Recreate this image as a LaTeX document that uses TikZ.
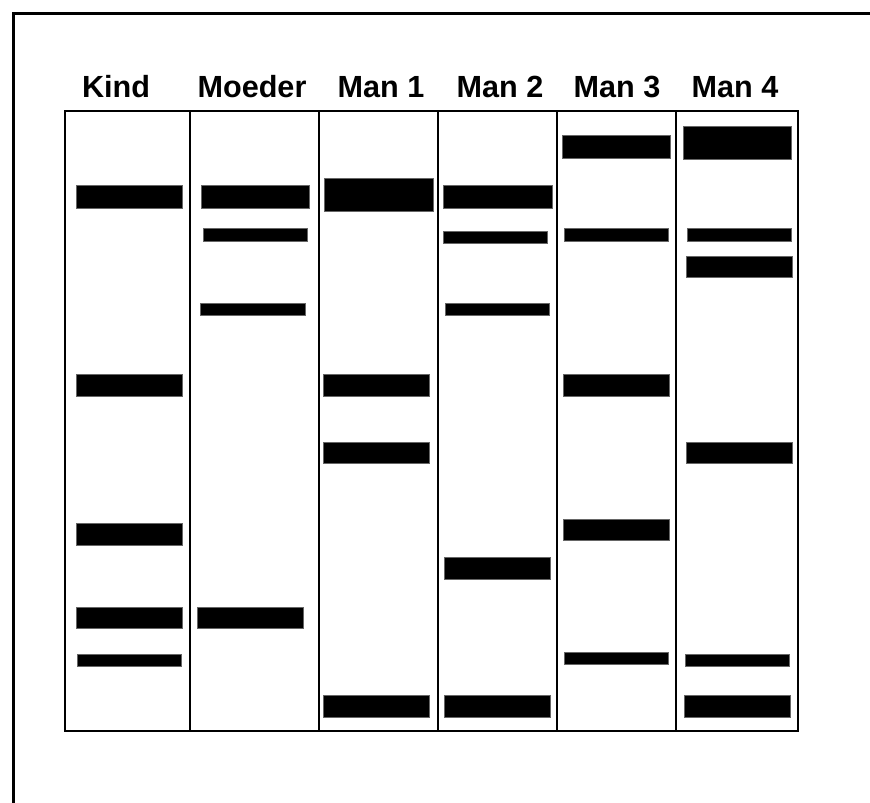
\documentclass[tikz,border=0pt]{standalone}
\usepackage{fontspec}
\setmainfont{Liberation Sans}
\usepackage{tikz}
\newcommand{\lanefont}{\fontsize{30.6}{36}\selectfont\bfseries}
\tikzset{
	gelline/.style={line width=2.6pt},
	frameline/.style={line width=3pt},
	band/.style={fill=black, draw=black!60, line width=0.4pt},
	lanelabel/.style={font=\lanefont, anchor=base, inner sep=0pt}
}

\begin{document}
\begin{tikzpicture}[x=1pt,y=-1pt]
				\useasboundingbox (0,0) rectangle (870,803);
				\draw[frameline] (13,810) -- (13,13) -- (880,13);
				
				\node[lanelabel] (kind) at (116,97) {Kind};
				\node[lanelabel] (moeder) at (252,97) {Moeder};
				\node[lanelabel] (man1) at (381,97) {Man 1};
				\node[lanelabel] (man2) at (500,97) {Man 2};
				\node[lanelabel] (man3) at (617,97) {Man 3};
				\node[lanelabel] (man4) at (735,97) {Man 4};
				
				\draw[gelline] (65,111) rectangle (798,731);
				\foreach \x in {190,319,438,557,676}
					\draw[gelline] (\x,111) -- (\x,731);
				
				\foreach \ya/\yb in {185/208,374/396,523/545,607/628}
					\draw[band] (76,\ya) rectangle (182,\yb);
				\draw[band] (77,654) rectangle (181,666);
				
				\draw[band] (201,185) rectangle (309,208);
				\draw[band] (203,228) rectangle (307,241);
				\draw[band] (200,303) rectangle (305,315);
				\draw[band] (197,607) rectangle (303,628);
				
				\draw[band] (324,178) rectangle (433,211);
				\foreach \ya/\yb in {374/396,442/463,695/717}
					\draw[band] (323,\ya) rectangle (429,\yb);
				
				\draw[band] (443,185) rectangle (552,208);
				\draw[band] (443,231) rectangle (547,243);
				\draw[band] (445,303) rectangle (549,315);
				\draw[band] (444,557) rectangle (550,579);
				\draw[band] (444,695) rectangle (550,717);
				
				\draw[band] (562,135) rectangle (670,158);
				\draw[band] (564,228) rectangle (668,241);
				\draw[band] (563,374) rectangle (669,396);
				\draw[band] (563,519) rectangle (669,540);
				\draw[band] (564,652) rectangle (668,664);
				
				\draw[band] (683,126) rectangle (791,159);
				\draw[band] (687,228) rectangle (791,241);
				\draw[band] (686,256) rectangle (792,277);
				\draw[band] (686,442) rectangle (792,463);
				\draw[band] (685,654) rectangle (789,666);
				\draw[band] (684,695) rectangle (790,717);
\end{tikzpicture}
\end{document}
